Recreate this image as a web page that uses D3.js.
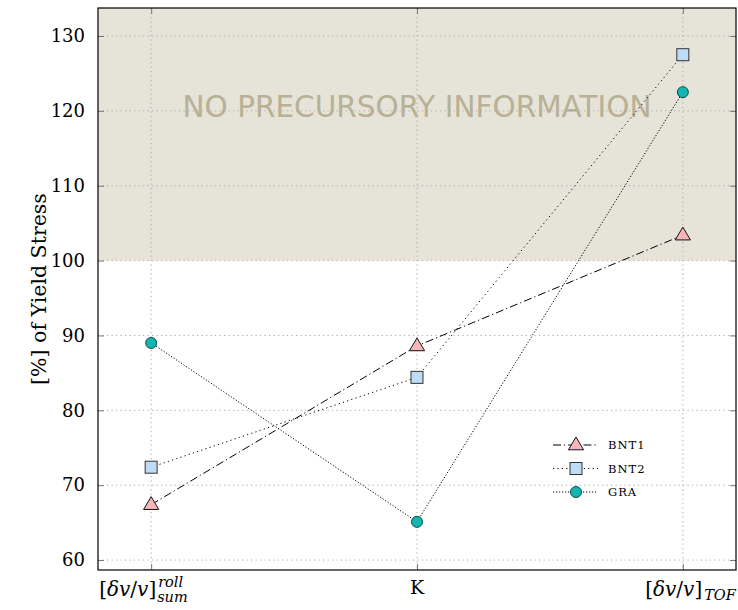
<!DOCTYPE html>
<html>
<head>
<meta charset="utf-8">
<script src="https://cdn.jsdelivr.net/npm/d3@7/dist/d3.min.js"></script>
<style>
  body { margin: 0; background: #fff; }
  svg { display: block; }
</style>
</head>
<body>
<svg id="chart" width="738" height="610"></svg>
<script>
// Categories and series values
const categories = ["roll", "K", "TOF"];
const bnt1 = [67.4, 88.6, 103.4];
const bnt2 = [72.4, 84.4, 127.5];
const gra = [89.0, 65.1, 122.5];
const yTicks = [60, 70, 80, 90, 100, 110, 120, 130];
const seriesNames = ["BNT1", "BNT2", "GRA"];
const shadeFrom = 100;

const svg = d3.select("#chart");
const margin = { left: 98, right: 2, top: 8, bottom: 40 };
const W = 738, H = 610;
const x0 = margin.left, x1 = W - margin.right, y0 = margin.top, y1 = H - margin.bottom;

const x = d3.scalePoint().domain(categories).range([x0, x1]).padding(0.2);
const y = d3.scaleLinear().domain([58.67, 133.74]).range([y1, y0]);

const serif = "'DejaVu Serif', 'Liberation Serif', serif";

// shaded band above 100%
svg.append("rect")
  .attr("x", x0).attr("y", y0)
  .attr("width", x1 - x0).attr("height", y(shadeFrom) - y0)
  .attr("fill", "#e6e3d9");

svg.append("text")
  .attr("x", x("K")).attr("y", y(120.5))
  .attr("text-anchor", "middle")
  .attr("dominant-baseline", "central")
  .attr("font-family", "'DejaVu Sans', sans-serif")
  .attr("font-size", 29.5)
  .attr("fill", "#b8b195")
  .text("NO PRECURSORY INFORMATION");

// dotted grid
const grid = svg.append("g").attr("stroke", "#a8a8a8").attr("stroke-width", 1)
  .attr("stroke-dasharray", "1.2,3.3");
yTicks.forEach(t => {
  grid.append("line").attr("x1", x0).attr("x2", x1).attr("y1", y(t)).attr("y2", y(t));
});
categories.forEach(c => {
  grid.append("line").attr("x1", x(c)).attr("x2", x(c)).attr("y1", y0).attr("y2", y1);
});

// axes with inward ticks
const axL = d3.axisLeft(y).tickValues(yTicks).tickSize(-6).tickPadding(13).tickFormat(d3.format("d"));
const gL = svg.append("g").attr("transform", `translate(${x0},0)`).call(axL);
gL.select(".domain").remove();
gL.selectAll("text").attr("font-family", serif).attr("font-size", 18).attr("fill", "#000");
gL.selectAll("line").attr("stroke", "#777");

const axR = d3.axisRight(y).tickValues(yTicks).tickSize(-6).tickFormat("");
const gR = svg.append("g").attr("transform", `translate(${x1},0)`).call(axR);
gR.select(".domain").remove();
gR.selectAll("line").attr("stroke", "#777");

const axB = d3.axisBottom(x).tickSize(-6).tickFormat("");
const gB = svg.append("g").attr("transform", `translate(0,${y1})`).call(axB);
gB.select(".domain").remove();
gB.selectAll("line").attr("stroke", "#777");

const axT = d3.axisTop(x).tickSize(-6).tickFormat("");
const gT = svg.append("g").attr("transform", `translate(0,${y0})`).call(axT);
gT.select(".domain").remove();
gT.selectAll("line").attr("stroke", "#777");

// frame
svg.append("rect").attr("x", x0).attr("y", y0)
  .attr("width", x1 - x0).attr("height", y1 - y0)
  .attr("fill", "none").attr("stroke", "#000").attr("stroke-width", 1.2);

// x tick labels (math notation)
const lblY = y1 + 26;
function deltaLabel(g, cx, anchor, sup, sub) {
  const t = g.append("text").attr("x", cx).attr("y", lblY)
    .attr("text-anchor", anchor)
    .attr("font-family", serif).attr("font-size", 20).attr("fill", "#000");
  t.append("tspan").text("[");
  t.append("tspan").attr("font-style", "italic").text("δv");
  t.append("tspan").text("/");
  t.append("tspan").attr("font-style", "italic").text("v");
  t.append("tspan").text("]");
  if (sup && sub) {
    t.append("tspan").attr("font-style", "italic").attr("font-size", 14.5).attr("dy", -9).attr("dx", 2).text(sup);
    t.append("tspan").attr("font-style", "italic").attr("font-size", 14.5).attr("dy", 15).attr("dx", -26).text(sub);
  } else if (sub) {
    t.append("tspan").attr("font-style", "italic").attr("font-size", 14.5).attr("dy", 4).attr("dx", 2).text(sub);
  }
  return t;
}
const xl = svg.append("g");
deltaLabel(xl, x("roll") - 52, "start", "roll", "sum");
xl.append("text").attr("x", x("K")).attr("y", lblY - 2).attr("text-anchor", "middle")
  .attr("font-family", serif).attr("font-size", 19).text("K");
deltaLabel(xl, x("TOF") + 53, "end", null, "TOF");

// y label
svg.append("text")
  .attr("transform", `translate(46,${(y0 + y1) / 2}) rotate(-90)`)
  .attr("text-anchor", "middle")
  .attr("font-family", serif).attr("font-size", 20.5)
  .text("[%] of Yield Stress");

// series
const styles = [
  { name: seriesNames[0], values: bnt1, dash: "8,3,1.2,3", shape: "tri", fill: "#f8b5b9" },
  { name: seriesNames[1], values: bnt2, dash: "1.2,3.2", shape: "sq", fill: "#bfdcf7" },
  { name: seriesNames[2], values: gra, dash: "1.2,1.8", shape: "circ", fill: "#12b5b0" }
];

const line = d3.line().x((d, i) => x(categories[i])).y(d => y(d));

function drawMarker(g, shape, cx, cy, fill) {
  if (shape === "tri") {
    const s = 8;
    g.append("path").attr("d", `M${cx},${cy - s} L${cx + s * 0.95},${cy + s * 0.6} L${cx - s * 0.95},${cy + s * 0.6} Z`)
      .attr("fill", fill).attr("stroke", "#111").attr("stroke-width", 1);
  } else if (shape === "sq") {
    const s = 6;
    g.append("rect").attr("x", cx - s).attr("y", cy - s).attr("width", 2 * s).attr("height", 2 * s)
      .attr("fill", fill).attr("stroke", "#333").attr("stroke-width", 1);
  } else {
    g.append("circle").attr("cx", cx).attr("cy", cy).attr("r", 5.5)
      .attr("fill", fill).attr("stroke", "#0a4f4d").attr("stroke-width", 1);
  }
}

styles.forEach(s => {
  svg.append("path").datum(s.values).attr("d", line)
    .attr("fill", "none").attr("stroke", "#000").attr("stroke-width", 1)
    .attr("stroke-dasharray", s.dash);
});
styles.forEach(s => {
  const g = svg.append("g");
  s.values.forEach((v, i) => drawMarker(g, s.shape, x(categories[i]), y(v), s.fill));
});

// legend
const lg = svg.append("g").attr("transform", "translate(553,445)");
styles.forEach((s, i) => {
  const ly = i * 23.5;
  lg.append("line").attr("x1", 0).attr("x2", 45).attr("y1", ly).attr("y2", ly)
    .attr("stroke", "#000").attr("stroke-width", 1).attr("stroke-dasharray", s.dash);
  drawMarker(lg, s.shape, 23, ly, s.fill);
  lg.append("text").attr("x", 55).attr("y", ly).attr("dominant-baseline", "central")
    .attr("font-family", serif).attr("font-size", 11.5).attr("letter-spacing", 1)
    .text(s.name);
});
</script>
</body>
</html>
